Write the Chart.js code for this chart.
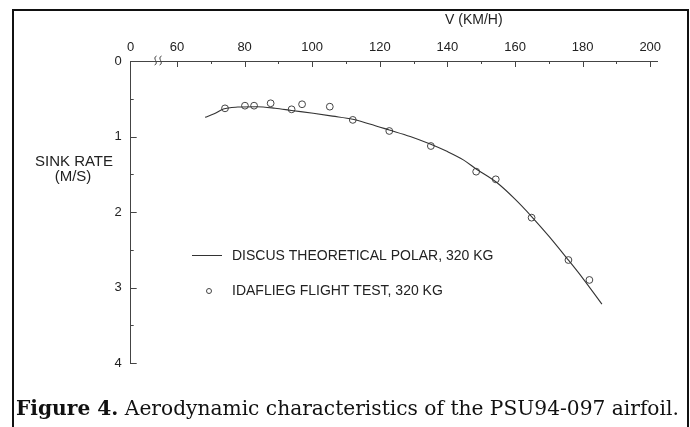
<!DOCTYPE html>
<html>
<head>
<meta charset="utf-8">
<script src="https://cdn.jsdelivr.net/npm/chart.js@4"></script>
<style>
  html, body { margin: 0; padding: 0; background: #fff; }
  #wrap { position: relative; width: 690px; height: 427px; overflow: hidden; }
  #chart { position: absolute; left: 0; top: 0; }
  #frame { position: absolute; left: 12px; top: 9px; width: 673px; height: 440px;
           border: 2px solid #111; border-bottom: none; pointer-events: none; }
  #caption { position: absolute; left: 16px; top: 396px; white-space: nowrap;
             font-family: "DejaVu Serif", serif; font-size: 20.2px; color: #111; }
</style>
</head>
<body>
<div id="wrap">
  <canvas id="chart" width="690" height="427"></canvas>
  <div id="frame"></div>
  <div id="caption"><b>Figure 4.</b> Aerodynamic characteristics of the PSU94-097 airfoil.</div>
</div>
<script>
// theoretical polar (line)
const polarSpeed = [68.3, 71, 73.7, 78, 83.6, 89, 93.9, 100.3, 106, 112, 117, 122.8, 129, 134.9, 140, 144.7, 148.5, 154.6, 160, 164.9, 170, 175.3, 180, 185.7];
const polarSink  = [0.746, 0.70, 0.635, 0.61, 0.605, 0.625, 0.655, 0.693, 0.73, 0.772, 0.835, 0.914, 1.0, 1.10, 1.20, 1.31, 1.43, 1.61, 1.83, 2.06, 2.32, 2.61, 2.875, 3.22];

// flight test points
const testSpeed = [74.2, 80.1, 82.8, 87.7, 93.9, 97.0, 105.2, 112.0, 122.8, 135.1, 148.5, 154.3, 164.9, 175.8, 182.0];
const testSink  = [0.627, 0.592, 0.592, 0.56, 0.64, 0.573, 0.605, 0.78, 0.927, 1.126, 1.466, 1.567, 2.075, 2.636, 2.90];

// axes (x axis is broken between 0 and 60)
const xAxisStart = 46.3;
const xAxisEnd = 202;
const xTickValues = [60, 70, 80, 90, 100, 110, 120, 130, 140, 150, 160, 170, 180, 190, 200];
const xLabelValues = [60, 80, 100, 120, 140, 160, 180, 200];
const xStartLabel = '0';
const yTickValues = [0, 0.5, 1, 1.5, 2, 2.5, 3, 3.5, 4];
const yLabelValues = [0, 1, 2, 3, 4];

const seriesNames = ['DISCUS THEORETICAL POLAR, 320 KG', 'IDAFLIEG FLIGHT TEST, 320 KG'];
const xTitle = 'V (KM/H)';
const yTitle = ['SINK RATE', '(M/S)'];

const ink = '#222';
const sans = 'Liberation Sans, Arial, sans-serif';

const decorations = {
    id: 'decorations',
    afterDraw(chart) {
        const ctx = chart.ctx;
        const xs = chart.scales.x, ys = chart.scales.y;
        const top = chart.chartArea.top, left = chart.chartArea.left;
        ctx.save();
        ctx.strokeStyle = '#444';
        ctx.lineWidth = 1;

        // inward tick marks
        xs.ticks.forEach(t => {
            if (t.value === xAxisStart) return;
            const px = Math.round(xs.getPixelForValue(t.value)) + 0.5;
            const len = xLabelValues.includes(t.value) ? 6 : 3;
            ctx.beginPath(); ctx.moveTo(px, top); ctx.lineTo(px, top + len); ctx.stroke();
        });
        ys.ticks.forEach(t => {
            if (t.value === 0) return;
            const py = Math.round(ys.getPixelForValue(t.value)) + 0.5;
            const len = yLabelValues.includes(t.value) ? 6 : 3;
            ctx.beginPath(); ctx.moveTo(left, py); ctx.lineTo(left + len, py); ctx.stroke();
        });

        // axis break marks
        const bx = xs.getPixelForValue(54.4);
        [-2.5, 2.5].forEach(dx => {
            ctx.beginPath();
            ctx.moveTo(bx + dx + 1, top - 5);
            ctx.bezierCurveTo(bx + dx - 4, top - 3, bx + dx + 4, top + 2, bx + dx - 1, top + 4);
            ctx.stroke();
        });

        // titles
        ctx.fillStyle = ink;
        ctx.font = '14px ' + sans;
        ctx.textBaseline = 'middle';
        ctx.textAlign = 'left';
        ctx.fillText(xTitle, 445, 20);
        ctx.font = '15px ' + sans;
        ctx.textAlign = 'center';
        ctx.fillText(yTitle[0], 74, 162);
        ctx.fillText(yTitle[1], 73, 177);

        // legend
        ctx.font = '14px ' + sans;
        ctx.textAlign = 'left';
        ctx.strokeStyle = chart.data.datasets[0].borderColor;
        ctx.beginPath(); ctx.moveTo(192, 255.5); ctx.lineTo(222, 255.5); ctx.stroke();
        ctx.fillText(seriesNames[0], 232, 256);
        ctx.strokeStyle = chart.data.datasets[1].borderColor;
        ctx.fillStyle = '#fff';
        ctx.beginPath(); ctx.arc(209, 291, 2.5, 0, Math.PI * 2); ctx.fill(); ctx.stroke();
        ctx.fillStyle = ink;
        ctx.fillText(seriesNames[1], 232, 291);
        ctx.restore();
    }
};

new Chart(document.getElementById('chart'), {
    type: 'scatter',
    data: {
        datasets: [{
            label: seriesNames[0],
            data: polarSpeed.map((v, i) => ({ x: v, y: polarSink[i] })),
            showLine: true,
            borderColor: '#333',
            borderWidth: 1.1,
            pointRadius: 0,
            cubicInterpolationMode: 'monotone'
        }, {
            label: seriesNames[1],
            data: testSpeed.map((v, i) => ({ x: v, y: testSink[i] })),
            showLine: false,
            borderColor: '#444',
            backgroundColor: '#fff',
            pointRadius: 3.4,
            pointBorderWidth: 1
        }]
    },
    options: {
        responsive: false,
        animation: false,
        layout: { padding: { left: 0, top: 0, right: 33, bottom: 64 } },
        plugins: { legend: { display: false }, tooltip: { enabled: false } },
        scales: {
            x: {
                type: 'linear', position: 'top',
                min: xAxisStart, max: xAxisEnd,
                grid: { display: false, drawTicks: false },
                border: { display: true, color: '#444', width: 1 },
                afterBuildTicks: axis => {
                    axis.ticks = [{ value: xAxisStart }].concat(xTickValues.map(v => ({ value: v })));
                },
                afterFit: axis => { axis.height = 61; },
                ticks: {
                    autoSkip: false, maxRotation: 0, padding: 6, color: ink,
                    font: { family: sans, size: 13 },
                    callback: v => v === xAxisStart ? xStartLabel : (xLabelValues.includes(v) ? String(v) : '')
                }
            },
            y: {
                type: 'linear', reverse: true,
                min: 0, max: 4,
                grid: { display: false, drawTicks: false },
                border: { display: true, color: '#444', width: 1 },
                afterBuildTicks: axis => { axis.ticks = yTickValues.map(v => ({ value: v })); },
                afterFit: axis => { axis.width = 130.7; },
                ticks: {
                    autoSkip: false, padding: 9, color: ink,
                    font: { family: sans, size: 13 },
                    callback: v => yLabelValues.includes(v) ? String(v) : ''
                }
            }
        }
    },
    plugins: [decorations]
});
</script>
</body>
</html>
